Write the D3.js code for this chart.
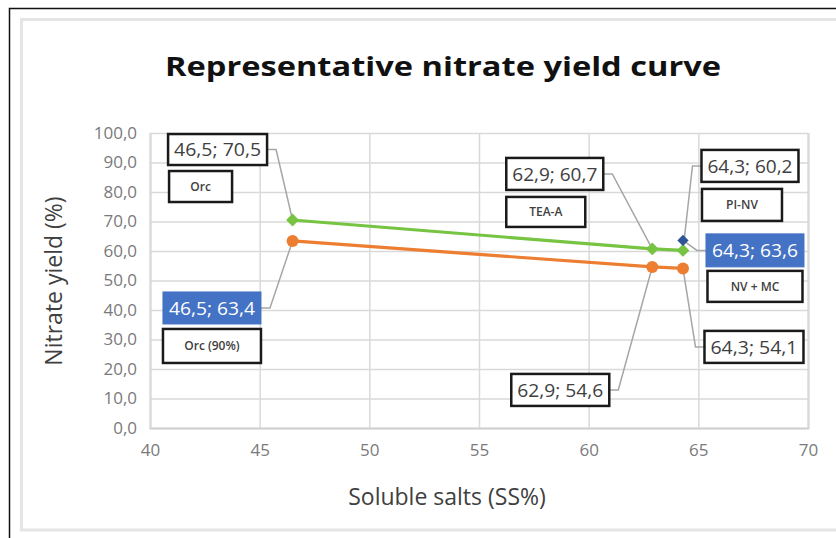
<!DOCTYPE html>
<html>
<head>
<meta charset="utf-8">
<script src="https://cdn.jsdelivr.net/npm/d3@7"></script>
<style>
  html, body { margin: 0; padding: 0; background: #fff; }
  svg { display: block; }
</style>
</head>
<body>
<svg id="chart" width="836" height="538"></svg>
<script>
// Soluble salts (SS%) for each process
const solubleSalts = [46.5, 62.9, 64.3];
// Nitrate yield (%) for the full-grade curve (green) and the 90% curve (orange)
const yieldFull = [70.5, 60.7, 60.2];
const yieldNinety = [63.4, 54.6, 54.1];
// Single PI-NV point
const extraSalts = [64.3];
const extraYield = [63.6];
// Process names shown in small boxes
const processNames = ["Orc", "Orc (90%)", "TEA-A", "PI-NV", "NV + MC"];
// Axis ticks
const xTicks = [40, 45, 50, 55, 60, 65, 70];
const yTicks = [0, 10, 20, 30, 40, 50, 60, 70, 80, 90, 100];

const W = 836, H = 538;
const margin = { left: 150, right: 28, top: 133, bottom: 110 };
const svg = d3.select("#chart");

const x = d3.scaleLinear().domain([40, 70]).range([margin.left, W - margin.right]);
const y = d3.scaleLinear().domain([0, 100]).range([H - margin.bottom, margin.top]);

const locale = d3.formatLocale({ decimal: ",", thousands: ".", grouping: [3], currency: ["", ""] });
const f1 = locale.format(".1f");
const f0 = locale.format("d");

const FONT = "'Open Sans', 'Noto Sans', sans-serif";

// outer frame
svg.append("path")
  .attr("d", `M9.5,${H} L9.5,8.5 L${W},8.5`)
  .attr("fill", "none").attr("stroke", "#111").attr("stroke-width", 1.5);
svg.append("rect")
  .attr("x", 21.5).attr("y", 19.5).attr("width", W).attr("height", 510.5)
  .attr("fill", "none").attr("stroke", "#e4e4e4").attr("stroke-width", 3);

// title
svg.append("text")
  .attr("x", 443).attr("y", 76)
  .attr("text-anchor", "middle")
  .attr("font-family", FONT).attr("font-weight", 700).attr("font-size", 27)
  .attr("fill", "#111")
  .attr("textLength", 556).attr("lengthAdjust", "spacingAndGlyphs")
  .text("Representative nitrate yield curve");

// grid + axes
const plotW = W - margin.right - margin.left;
const plotH = H - margin.bottom - margin.top;

const gy = svg.append("g").attr("transform", `translate(${margin.left},0)`)
  .call(d3.axisLeft(y).tickValues(yTicks).tickSize(-plotW).tickPadding(13).tickFormat(f1));
gy.select(".domain").remove();
gy.selectAll(".tick line").attr("stroke", "#d9d9d9").attr("stroke-width", 1.5);
gy.selectAll(".tick text").attr("font-family", FONT).attr("font-size", 17).attr("fill", "#7a7a7a");

const gx = svg.append("g").attr("transform", `translate(0,${H - margin.bottom})`)
  .call(d3.axisBottom(x).tickValues(xTicks).tickSize(-plotH).tickPadding(16).tickFormat(f0));
gx.select(".domain").attr("stroke", "#d0d0d0").attr("stroke-width", 2);
gx.selectAll(".tick line").attr("stroke", "#d9d9d9").attr("stroke-width", 1.5);
gx.selectAll(".tick text").attr("font-family", FONT).attr("font-size", 17).attr("fill", "#7a7a7a");

// axis titles
svg.append("text")
  .attr("x", 447).attr("y", 505).attr("text-anchor", "middle")
  .attr("font-family", FONT).attr("font-size", 23).attr("fill", "#404040")
  .text("Soluble salts (SS%)");
svg.append("text")
  .attr("transform", "translate(62,281) rotate(-90)").attr("text-anchor", "middle")
  .attr("font-family", FONT).attr("font-size", 23).attr("fill", "#404040")
  .text("Nitrate yield (%)");

// series
const fullPts = solubleSalts.map((s, i) => ({ x: s, y: yieldFull[i] }));
const ninetyPts = solubleSalts.map((s, i) => ({ x: s, y: yieldNinety[i] }));
const extraPts = extraSalts.map((s, i) => ({ x: s, y: extraYield[i] }));

const line = d3.line().x(d => x(d.x)).y(d => y(d.y));

// label layout: box centre offsets from the point, box sizes
const valueLabels = [
  { pts: fullPts,   i: 0, dx: -75,   dy: -70.5, w: 99, h: 31, filled: false },
  { pts: ninetyPts, i: 0, dx: -80.6, dy: 67,    w: 98, h: 32, filled: true },
  { pts: fullPts,   i: 1, dx: -97.5, dy: -75,   w: 97, h: 32, filled: false },
  { pts: ninetyPts, i: 1, dx: -92,   dy: 123,   w: 98, h: 32, filled: false },
  { pts: fullPts,   i: 2, dx: 67,    dy: -84.5, w: 97, h: 32, filled: false },
  { pts: extraPts,  i: 0, dx: 72,    dy: 10,    w: 98, h: 33, filled: true },
  { pts: ninetyPts, i: 2, dx: 71,    dy: 78.5,  w: 99, h: 32, filled: false }
];
const nameLabels = [
  { pts: fullPts,   i: 0, name: processNames[0], dx: -92,   dy: -33.5, w: 63, h: 31 },
  { pts: ninetyPts, i: 0, name: processNames[1], dx: -80.6, dy: 105,   w: 98, h: 34 },
  { pts: fullPts,   i: 1, name: processNames[2], dx: -106.5, dy: -37,  w: 79, h: 30 },
  { pts: fullPts,   i: 2, name: processNames[3], dx: 59,    dy: -45.5, w: 80, h: 32 },
  { pts: extraPts,  i: 0, name: processNames[4], dx: 72,    dy: 46,    w: 95, h: 31 }
];

// leader lines (beneath markers)
const leaders = svg.append("g");
valueLabels.forEach(l => {
  const p = l.pts[l.i];
  const px = x(p.x), py = y(p.y);
  const cx = px + l.dx, cy = py + l.dy;
  const side = l.dx < 0 ? 1 : -1;
  const ex = cx + side * l.w / 2;
  const elbow = ex + side * 9;
  leaders.append("path")
    .attr("d", `M${ex},${cy} L${elbow},${cy} L${px},${py}`)
    .attr("fill", "none").attr("stroke", "#a6a6a6").attr("stroke-width", 1.5);
});

svg.append("path").datum(fullPts).attr("d", line)
  .attr("fill", "none").attr("stroke", "#76c442").attr("stroke-width", 3.2);
svg.append("path").datum(ninetyPts).attr("d", line)
  .attr("fill", "none").attr("stroke", "#ed7d31").attr("stroke-width", 3.2);

// square-rotated diamonds
svg.append("g").selectAll("path").data(fullPts).join("path")
  .attr("transform", d => `translate(${x(d.x)},${y(d.y)}) rotate(45)`)
  .attr("d", d3.symbol(d3.symbolSquare, 82))
  .attr("fill", "#76c442");
svg.append("g").selectAll("circle").data(ninetyPts).join("circle")
  .attr("cx", d => x(d.x)).attr("cy", d => y(d.y)).attr("r", 6)
  .attr("fill", "#ed7d31");
svg.append("g").selectAll("path").data(extraPts).join("path")
  .attr("transform", d => `translate(${x(d.x)},${y(d.y)}) rotate(45)`)
  .attr("d", d3.symbol(d3.symbolSquare, 64))
  .attr("fill", "#2f5597");

// value boxes
const vg = svg.append("g");
valueLabels.forEach(l => {
  const p = l.pts[l.i];
  const cx = x(p.x) + l.dx, cy = y(p.y) + l.dy;
  vg.append("rect")
    .attr("x", cx - l.w / 2).attr("y", cy - l.h / 2).attr("width", l.w).attr("height", l.h)
    .attr("fill", l.filled ? "#4472c4" : "#fff")
    .attr("stroke", l.filled ? "#4472c4" : "#1a1a1a")
    .attr("stroke-width", l.filled ? 1 : 2.5);
  vg.append("text")
    .attr("x", cx).attr("y", cy).attr("dy", "0.36em").attr("text-anchor", "middle")
    .attr("font-family", FONT).attr("font-size", 19)
    .attr("fill", l.filled ? "#fff" : "#404040")
    .attr("textLength", l.w - 12).attr("lengthAdjust", "spacingAndGlyphs")
    .text(`${f1(p.x)}; ${f1(p.y)}`);
});

// name boxes
const ng = svg.append("g");
nameLabels.forEach(l => {
  const p = l.pts[l.i];
  const cx = x(p.x) + l.dx, cy = y(p.y) + l.dy;
  ng.append("rect")
    .attr("x", cx - l.w / 2).attr("y", cy - l.h / 2).attr("width", l.w).attr("height", l.h)
    .attr("fill", "#fff").attr("stroke", "#1a1a1a").attr("stroke-width", 2.5);
  ng.append("text")
    .attr("x", cx).attr("y", cy).attr("dy", "0.36em").attr("text-anchor", "middle")
    .attr("font-family", FONT).attr("font-size", 12).attr("font-weight", 600)
    .attr("fill", "#404040")
    .text(l.name);
});
</script>
</body>
</html>
